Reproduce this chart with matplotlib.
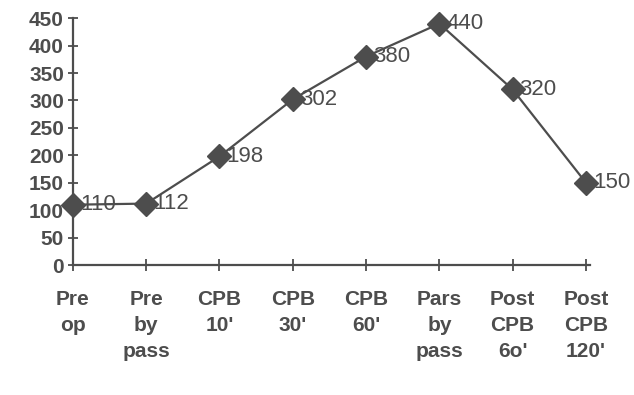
import matplotlib.pyplot as plt

categories = ["Pre\nop", "Pre\nby\npass", "CPB\n10'", "CPB\n30'", "CPB\n60'",
              "Pars\nby\npass", "Post\nCPB\n6o'", "Post\nCPB\n120'"]
values = [110, 112, 198, 302, 380, 440, 320, 150]
yticks = [0, 50, 100, 150, 200, 250, 300, 350, 400, 450]

grey = '#4d4d4d'
plt.rcParams['font.family'] = ['Liberation Sans', 'DejaVu Sans']

fig = plt.figure(figsize=(6.34, 3.95), dpi=100)
ax = fig.add_axes([0.115, 0.329, 0.815, 0.625])

xs = list(range(len(values)))
ax.plot(xs, values, color=grey, lw=1.6, marker='D', markersize=12, markerfacecolor=grey,
        markeredgecolor=grey, clip_on=False, zorder=3)
for x, v in zip(xs, values):
    ax.annotate(str(v), (x, v), xytext=(5, 0), textcoords='offset points', ha='left', va='center',
                fontsize=16, color=grey, zorder=4)

ax.set_xlim(0, 7.05)
ax.set_ylim(0, 450)
ax.set_yticks(yticks)
ax.set_yticklabels([str(t) for t in yticks], fontsize=15, fontweight='bold', color=grey)
ax.set_xticks(xs)
ax.set_xticklabels(categories, fontsize=15, fontweight='bold', color=grey, linespacing=1.45, va='top')
ax.tick_params(axis='y', direction='inout', length=7, width=1.3, color=grey, pad=3)
ax.tick_params(axis='x', direction='inout', length=8, width=1.3, color=grey, pad=14)
for s in ['top', 'right']:
    ax.spines[s].set_visible(False)
for s in ['left', 'bottom']:
    ax.spines[s].set_color(grey)
    ax.spines[s].set_linewidth(1.6)

fig.savefig('out.png', dpi=100)
